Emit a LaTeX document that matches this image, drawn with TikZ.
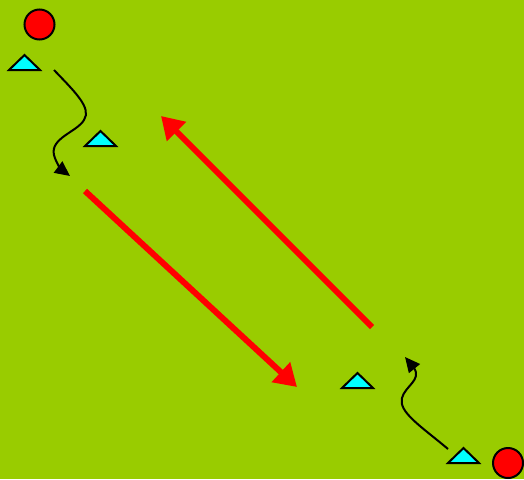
\documentclass[tikz,border=0pt]{standalone}
\usetikzlibrary{arrows.meta}
\definecolor{field}{HTML}{99CC00}
\definecolor{cone}{HTML}{00FFFF}
\definecolor{ball}{HTML}{FF0000}
\tikzset{
  player/.style={circle,draw=black,fill=ball,line width=2pt,minimum size=30pt,inner sep=0pt},
  conetri/.style={draw=black,fill=cone,line width=2pt,line join=miter},
  runarrow/.style={draw=ball,line width=6pt,-{Triangle[length=22pt,width=26pt]}},
  dribble/.style={draw=black,line width=2pt,-{Triangle[length=15pt,width=14pt]}}
}
\begin{document}
\begin{tikzpicture}[x=1pt,y=-1pt]
\fill[field] (0,0) rectangle (524,479);
\useasboundingbox (0,0) rectangle (524,479);
% players
\node[player] (p1) at (39.5,24.5) {};
\node[player] (p2) at (508,463) {};
% cones
\draw[conetri] (9,70) -- (40,70) -- (24.5,55) -- cycle;
\draw[conetri] (85,146) -- (116,146) -- (100.5,131) -- cycle;
\draw[conetri] (342,388) -- (373,388) -- (357.5,373) -- cycle;
\draw[conetri] (448,463) -- (479,463) -- (463.5,448) -- cycle;
% coordinates
\coordinate (a1s) at (85,191);
\coordinate (a1e) at (297,387);
\coordinate (a2s) at (372,327);
\coordinate (a2e) at (161,116);
\coordinate (d1s) at (54,70);
\coordinate (d1e) at (70,176);
\coordinate (d2s) at (448,449);
\coordinate (d2e) at (405,357);
% runs
\draw[runarrow] (a1s) -- (a1e);
\draw[runarrow] (a2s) -- (a2e);
% dribbles
\draw[dribble] (d1s) .. controls (75,92) and (92,108) .. (84,120)
  .. controls (77,132) and (50,138) .. (54,155)
  .. controls (56,163) and (62,170) .. (d1e);
\draw[dribble] (d2s) .. controls (422,427) and (398,412) .. (402,398)
  .. controls (405,386) and (422,380) .. (414,368)
  -- (d2e);
\end{tikzpicture}
\end{document}
